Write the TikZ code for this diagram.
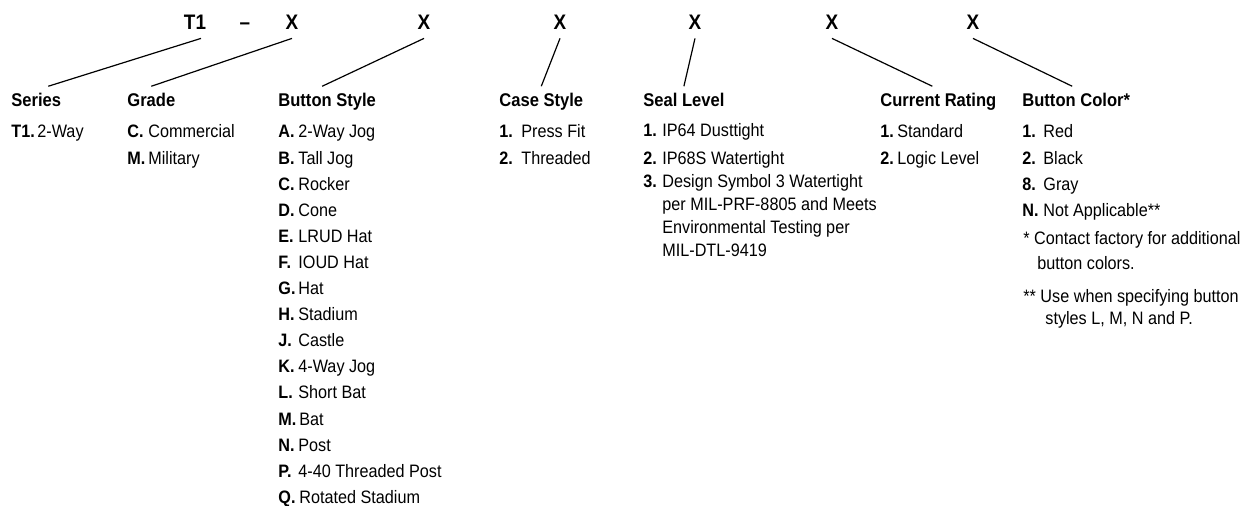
\documentclass[tikz,border=0pt]{standalone}
\usepackage{fontspec}
\setmainfont{Liberation Sans}[FakeStretch=0.9]
\usetikzlibrary{calc}
\tikzset{
  code/.style={font=\bfseries\fontsize{10.5}{12}\selectfont, anchor=base, inner xsep=0pt, inner ysep=4pt},
  head/.style={font=\bfseries\fontsize{9.2}{11}\selectfont, anchor=base west, inner xsep=0pt, inner ysep=3.5pt},
  key/.style={font=\bfseries\fontsize{9}{11}\selectfont, anchor=base west, inner sep=0pt},
  val/.style={font=\fontsize{9}{11}\selectfont, anchor=base west, inner sep=0pt},
  lead/.style={line width=0.6pt}
}

\begin{document}
\begin{tikzpicture}[x=0.5pt, y=-0.5pt]
			%%%%% START %%%%%
			\useasboundingbox (0,0) rectangle (1255,506);
			
			% part number
			\node[code] (t1) at (195,30) {T1};
			\node[code] (dash) at (245,30) {--};
			\node[code] (x1) at (292,30) {X};
			\node[code] (x2) at (424,30) {X};
			\node[code] (x3) at (560,30) {X};
			\node[code] (x4) at (695,30) {X};
			\node[code] (x5) at (832,30) {X};
			\node[code] (x6) at (973,30) {X};
			
			% headings
			\node[head] (series) at (11,107) {Series};
			\node[head] (grade) at (127,107) {Grade};
			\node[head] (bstyle) at (278,107) {Button Style};
			\node[head] (cstyle) at (499,107) {Case Style};
			\node[head] (seal) at (643,107) {Seal Level};
			\node[head] (rating) at (880,107) {Current Rating};
			\node[head] (bcolor) at (1022,107) {Button Color*};
			
			\draw[lead] ([xshift=3pt]t1.south) -- ([xshift=6pt]series.north);
			\draw[lead] (x1.south) -- (grade.north);
			\draw[lead] (x2.south) -- ([xshift=-2.5pt]bstyle.north);
			\draw[lead] (x3.south) -- (cstyle.north);
			\draw[lead] (x4.south) -- (seal.north);
			\draw[lead] (x5.south) -- ([xshift=-3pt]rating.north);
			\draw[lead] (x6.south) -- ([xshift=-2pt]bcolor.north);
			
			% series
			\node[key] (ser1) at (11,138) {T1.};
			\node[val] (ser1-t) at (37,138) {2-Way};
			
			% grade
			\node[key] (grd1) at (127,138) {C.};
			\node[val] (grd1-t) at (148,138) {Commercial};
			\node[key] (grd2) at (127,164.1) {M.};
			\node[val] (grd2-t) at (148,164.1) {Military};
			
			% button style
			\node[key] (btnA) at (278,138) {A.};
			\node[val] (btnA-t) at (298,138) {2-Way Jog};
			\node[key] (btnB) at (278,164.1) {B.};
			\node[val] (btnB-t) at (298,164.1) {Tall Jog};
			\node[key] (btnC) at (278,190.2) {C.};
			\node[val] (btnC-t) at (298,190.2) {Rocker};
			\node[key] (btnD) at (278,216.3) {D.};
			\node[val] (btnD-t) at (298,216.3) {Cone};
			\node[key] (btnE) at (278,242.4) {E.};
			\node[val] (btnE-t) at (298,242.4) {LRUD Hat};
			\node[key] (btnF) at (278,268.5) {F.};
			\node[val] (btnF-t) at (298,268.5) {IOUD Hat};
			\node[key] (btnG) at (278,294.6) {G.};
			\node[val] (btnG-t) at (298,294.6) {Hat};
			\node[key] (btnH) at (278,320.7) {H.};
			\node[val] (btnH-t) at (298,320.7) {Stadium};
			\node[key] (btnJ) at (278,346.8) {J.};
			\node[val] (btnJ-t) at (298,346.8) {Castle};
			\node[key] (btnK) at (278,372.9) {K.};
			\node[val] (btnK-t) at (298,372.9) {4-Way Jog};
			\node[key] (btnL) at (278,399) {L.};
			\node[val] (btnL-t) at (298,399) {Short Bat};
			\node[key] (btnM) at (278,425.1) {M.};
			\node[val] (btnM-t) at (299,425.1) {Bat};
			\node[key] (btnN) at (278,451.2) {N.};
			\node[val] (btnN-t) at (298,451.2) {Post};
			\node[key] (btnP) at (278,477.3) {P.};
			\node[val] (btnP-t) at (298,477.3) {4-40 Threaded Post};
			\node[key] (btnQ) at (278,503.4) {Q.};
			\node[val] (btnQ-t) at (299,503.4) {Rotated Stadium};
			
			% case style
			\node[key] (cas1) at (499,138) {1.};
			\node[val] (cas1-t) at (521,138) {Press Fit};
			\node[key] (cas2) at (499,164.1) {2.};
			\node[val] (cas2-t) at (521,164.1) {Threaded};
			
			% seal level
			\node[key] (sl1) at (643,137) {1.};
			\node[val] (sl1-t) at (662,137) {IP64 Dusttight};
			\node[key] (sl2) at (643,165) {2.};
			\node[val] (sl2-t) at (662,165) {IP68S Watertight};
			\node[key] (sl3) at (643,188) {3.};
			\node[val] (sl3-t) at (662,188) {Design Symbol 3 Watertight};
			\node[val] (sl3-b) at (662,211) {per MIL-PRF-8805 and Meets};
			\node[val] (sl3-c) at (662,234) {Environmental Testing per};
			\node[val] (sl3-d) at (662,257) {MIL-DTL-9419};
			
			% current rating
			\node[key] (cr1) at (880,138) {1.};
			\node[val] (cr1-t) at (897,138) {Standard};
			\node[key] (cr2) at (880,164.1) {2.};
			\node[val] (cr2-t) at (897,164.1) {Logic Level};
			
			% button color
			\node[key] (col1) at (1022,138) {1.};
			\node[val] (col1-t) at (1043,138) {Red};
			\node[key] (col2) at (1022,164.1) {2.};
			\node[val] (col2-t) at (1043,164.1) {Black};
			\node[key] (col8) at (1022,190.2) {8.};
			\node[val] (col8-t) at (1043,190.2) {Gray};
			\node[key] (colN) at (1022,216.3) {N.};
			\node[val] (colN-t) at (1043,216.3) {Not Applicable**};
			
			% notes
			\node[val] (note1) at (1023,245) {* Contact factory for additional};
			\node[val] (note1-b) at (1037,270) {button colors.};
			\node[val] (note2) at (1023,303) {** Use when specifying button};
			\node[val] (note2-b) at (1045,325) {styles L, M, N and P.};
			
			%%%%% END %%%%%
\end{tikzpicture}
\end{document}
